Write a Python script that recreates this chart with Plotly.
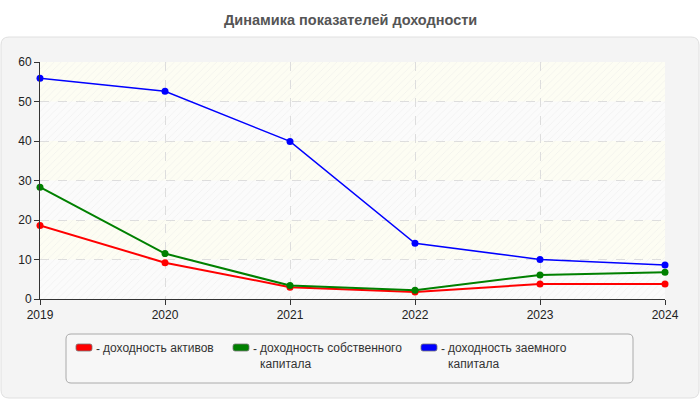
import plotly.graph_objects as go

years = [2019, 2020, 2021, 2022, 2023, 2024]
roa = [18.6, 9.2, 3.0, 1.8, 3.8, 3.8]
roe = [28.3, 11.5, 3.4, 2.2, 6.1, 6.8]
rod = [55.9, 52.6, 39.9, 14.1, 10.0, 8.6]
y_ticks = [0, 10, 20, 30, 40, 50, 60]
series_names = ["доходность активов", "доходность собственного<br>капитала", "доходность заемного<br>капитала"]
series_colors = ["#ff0000", "#008000", "#0000ff"]
title_text = "Динамика показателей доходности"

W, H = 700, 400
L, R, T, B = 40, 35, 62, 101
PW, PH = W - L - R, H - T - B


def px(x):
    return (x - L) / PW


def py(y):
    return (H - B - y) / PH


def rrect(x0, y0, x1, y1, r):
    # rounded rect path in paper coords, given pixel coords
    def P(x, y):
        return f"{px(x)},{py(y)}"
    return (f"M {P(x0 + r, y0)} L {P(x1 - r, y0)} Q {P(x1, y0)} {P(x1, y0 + r)} "
            f"L {P(x1, y1 - r)} Q {P(x1, y1)} {P(x1 - r, y1)} L {P(x0 + r, y1)} "
            f"Q {P(x0, y1)} {P(x0, y1 - r)} L {P(x0, y0 + r)} Q {P(x0, y0)} {P(x0 + r, y0)} Z")


fig = go.Figure()

# hatch over plot area
fig.add_trace(go.Scatter(
    x=[years[0], years[-1], years[-1], years[0], years[0]],
    y=[y_ticks[0], y_ticks[0], y_ticks[-1], y_ticks[-1], y_ticks[0]],
    fill="toself", mode="lines", line=dict(width=0),
    fillcolor="rgba(0,0,0,0)",
    fillpattern=dict(shape="/", fgcolor="#e4e4e4", bgcolor="rgba(0,0,0,0)", size=5, solidity=0.15),
    hoverinfo="skip", showlegend=False))

for vals, name, col, w in zip([roa, roe, rod], series_names, series_colors, [2, 2, 1.5]):
    fig.add_trace(go.Scatter(
        x=years, y=vals, mode="lines+markers", name=name.replace("<br>", " "),
        line=dict(color=col, width=w), marker=dict(color=col, size=7),
        cliponaxis=False, showlegend=False))

shapes = []
# card
shapes.append(dict(type="path", xref="paper", yref="paper", path=rrect(1, 37, 699, 398, 8),
                   fillcolor="#f4f4f4", line=dict(color="#e0e0e0", width=1), layer="below"))
# plot bg
shapes.append(dict(type="rect", xref="x", yref="y", x0=years[0], x1=years[-1], y0=y_ticks[0], y1=y_ticks[-1],
                   fillcolor="#fbfbfb", line=dict(width=0), layer="below"))
# ivory bands
for i in range(len(y_ticks) - 1):
    if i % 2 == 1:
        shapes.append(dict(type="rect", xref="x", yref="y", x0=years[0], x1=years[-1],
                           y0=y_ticks[i], y1=y_ticks[i + 1], fillcolor="#fdfdf3",
                           line=dict(width=0), layer="below"))
# legend box
shapes.append(dict(type="path", xref="paper", yref="paper", path=rrect(66, 334, 633, 383, 5),
                   fillcolor="#f7f7f7", line=dict(color="#aaaaaa", width=1), layer="above"))

annotations = [dict(text=f"<b>{title_text}</b>", xref="paper", yref="paper", x=px(350), y=py(20),
                    xanchor="center", yanchor="middle", showarrow=False,
                    font=dict(size=14.5, color="#555555"))]

leg_x = [76, 233, 421]
for lx, name, col in zip(leg_x, series_names, series_colors):
    shapes.append(dict(type="path", xref="paper", yref="paper", path=rrect(lx, 344, lx + 16, 351, 2),
                       fillcolor=col, line=dict(color="#777777", width=0.8), layer="above"))
    annotations.append(dict(text="-", xref="paper", yref="paper", x=px(lx + 18), y=py(340),
                            xanchor="left", yanchor="top", showarrow=False,
                            font=dict(size=12, color="#333333")))
    annotations.append(dict(text=name, xref="paper", yref="paper", x=px(lx + 25), y=py(339),
                            xanchor="left", yanchor="top", align="left", showarrow=False,
                            font=dict(size=12, color="#333333")))

fig.update_layout(
    width=W, height=H,
    margin=dict(l=L, r=R, t=T, b=B),
    paper_bgcolor="#ffffff", plot_bgcolor="rgba(0,0,0,0)",
    font=dict(family="Liberation Sans, Arial, sans-serif", size=12, color="#222222"),
    shapes=shapes, annotations=annotations, showlegend=False,
    xaxis=dict(range=[years[0], years[-1]], tickvals=years, ticktext=[str(y) for y in years],
               showgrid=True, gridcolor="#dddddd", griddash="dash", gridwidth=1,
               showline=True, linecolor="#333333", linewidth=1,
               ticks="outside", ticklen=5, tickcolor="#333333", zeroline=False,
               tickfont=dict(size=12, color="#222222")),
    yaxis=dict(range=[y_ticks[0], y_ticks[-1]], tickvals=y_ticks,
               showgrid=True, gridcolor="#dddddd", griddash="dash", gridwidth=1,
               showline=True, linecolor="#333333", linewidth=1,
               ticks="outside", ticklen=5, tickcolor="#333333", zeroline=False,
               tickfont=dict(size=12, color="#222222")),
)

fig.write_html("out.html", config={"displayModeBar": False},
               post_script="document.body.style.margin='0';document.body.style.padding='0';document.body.style.overflow='hidden';")
